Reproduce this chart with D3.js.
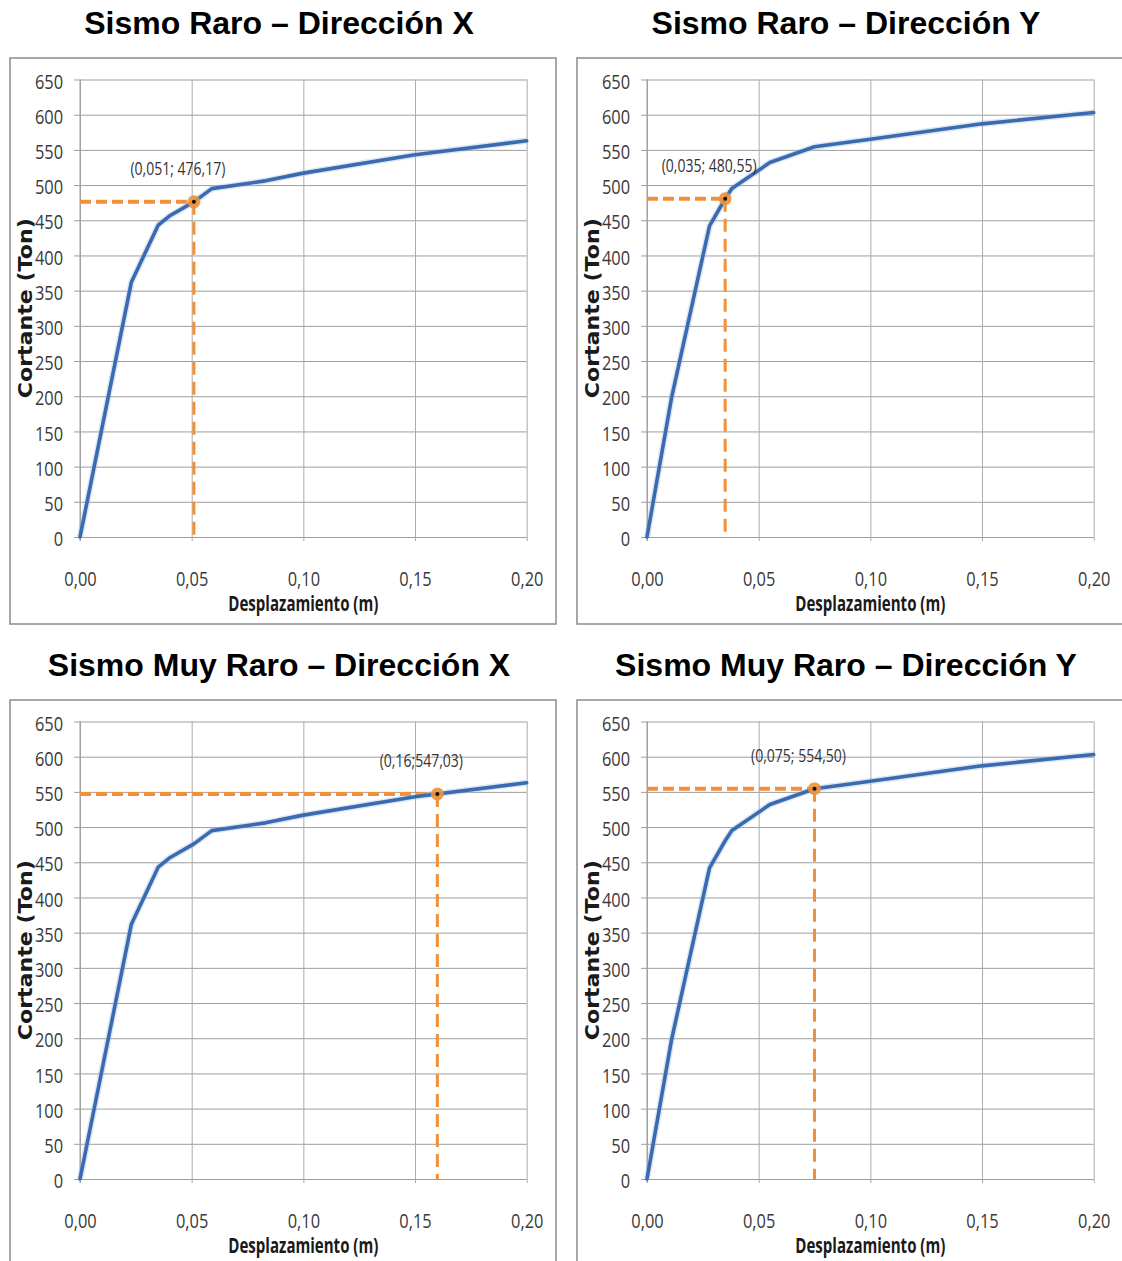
<!DOCTYPE html>
<html><head><meta charset="utf-8">
<script src="https://cdn.jsdelivr.net/npm/d3@7"></script>
<style>body{margin:0;background:#fff}</style>
</head><body><svg id="c" width="1122" height="1261"></svg>
<script>
// ---- data ----
const panelTitles = ["Sismo Raro – Dirección X","Sismo Raro – Dirección Y","Sismo Muy Raro – Dirección X","Sismo Muy Raro – Dirección Y"];
const dispX  = [0, 0.023, 0.035, 0.040, 0.051, 0.059, 0.083, 0.10, 0.15, 0.20];
const shearX = [0, 362,   443,   456,   476.17, 495,  506,   517,  543,  563];
const dispY  = [0, 0.011, 0.028, 0.035, 0.038, 0.055, 0.075, 0.10, 0.15, 0.20];
const shearY = [0, 198,   442,   480.55, 495,  532,   554.5, 565,  587,  603];
const panelCurve = ["X","Y","X","Y"];
const markDisp  = [0.051, 0.035, 0.16, 0.075];
const markShear = [476.17, 480.55, 547.03, 554.50];
const markLabels = ["(0,051; 476,17)","(0,035; 480,55)","(0,16;547,03)","(0,075; 554,50)"];
const xTickValues = [0, 0.05, 0.10, 0.15, 0.20];
const yTickValues = [0,50,100,150,200,250,300,350,400,450,500,550,600,650];
const xAxisTitle = "Desplazamiento (m)";
const yAxisTitle = "Cortante (Ton)";

// ---- layout / style ----
const svg = d3.select("#c");
const panelPos = [[10,58],[577,58],[10,700],[577,700]];
const frameW = 546, frameH = 566;
const plotL = 70, plotT = 21.5, plotW = 446.7, plotH = 457.5;
const tickFont = "'Open Sans','Noto Sans',sans-serif";
const sx = 0.8; // horizontal condensation of tick text
const blue = "#3a6bb0", orange = "#f0913a";
const fmtX = d => d3.format(".2f")(d).replace(".", ",");

const curves = {
  X: dispX.map((d,i)=>({x:d,y:shearX[i]})),
  Y: dispY.map((d,i)=>({x:d,y:shearY[i]}))
};

panelPos.forEach(([fx,fy], p) => {
  // title
  svg.append("text")
    .attr("x", fx + 269).attr("y", fy - 24)
    .attr("text-anchor","middle")
    .attr("font-family","'Liberation Sans',Arial,sans-serif")
    .attr("font-weight","bold").attr("font-size",32)
    .attr("fill","#000")
    .text(panelTitles[p]);

  // frame
  svg.append("rect").attr("x",fx).attr("y",fy).attr("width",frameW).attr("height",frameH)
    .attr("fill","#fff").attr("stroke","#8c8c8c").attr("stroke-width",1.5);

  const g = svg.append("g").attr("transform",`translate(${fx+plotL},${fy+plotT})`);
  const x = d3.scaleLinear().domain([0,0.20]).range([0,plotW]);
  const y = d3.scaleLinear().domain([0,650]).range([plotH,0]);

  // horizontal grid + y labels
  const ya = g.append("g").call(d3.axisLeft(y).tickValues(yTickValues).tickSize(-plotW).tickPadding(0).tickFormat(d=>d));
  ya.select(".domain").remove();
  ya.selectAll(".tick line").attr("stroke","#9e9e9e").attr("stroke-width",1).attr("x1",-6);
  ya.selectAll(".tick text").attr("x",-17/sx).attr("dy","0.42em").attr("transform",`scale(${sx},1)`)
    .attr("font-family",tickFont).attr("font-size",20.5).attr("fill","#3a3a3a");

  // vertical grid + x labels
  const xa = g.append("g").attr("transform",`translate(0,${plotH})`)
    .call(d3.axisBottom(x).tickValues(xTickValues).tickSize(-plotH).tickPadding(0).tickFormat(fmtX));
  xa.select(".domain").remove();
  xa.selectAll(".tick line").attr("stroke","#ababab").attr("stroke-width",1).attr("y1",4);
  xa.selectAll(".tick text").attr("x",0).attr("y",49).attr("dy",0).attr("transform",`scale(${sx},1)`)
    .attr("font-family",tickFont).attr("font-size",20.5).attr("fill","#3a3a3a");

  // left axis line
  g.append("line").attr("x1",0).attr("x2",0).attr("y1",0).attr("y2",plotH+4)
    .attr("stroke","#9a9a9a").attr("stroke-width",1);

  // axis titles
  g.append("text").attr("x",plotW/2).attr("y",plotH+74).attr("text-anchor","middle")
    .attr("font-family",tickFont).attr("font-weight","bold").attr("font-size",20.5)
    .attr("fill","#1a1a1a").attr("textLength",150).attr("lengthAdjust","spacingAndGlyphs")
    .text(xAxisTitle);
  g.append("text").attr("transform",`translate(${-48},${plotH/2}) rotate(-90)`)
    .attr("text-anchor","middle")
    .attr("font-family","'DejaVu Sans',Verdana,sans-serif").attr("font-weight","bold").attr("font-size",19)
    .attr("fill","#1a1a1a").attr("textLength",180).attr("lengthAdjust","spacingAndGlyphs")
    .text(yAxisTitle);

  // reference dashed lines
  const mx = x(markDisp[p]), my = y(markShear[p]);
  g.append("line").attr("x1",0).attr("x2",mx).attr("y1",my).attr("y2",my)
    .attr("stroke",orange).attr("stroke-width",4).attr("stroke-dasharray","11,5");
  g.append("line").attr("x1",mx).attr("x2",mx).attr("y1",my).attr("y2",plotH)
    .attr("stroke",orange).attr("stroke-width",3).attr("stroke-dasharray","13,7");

  // curve
  const line = d3.line().x(d=>x(d.x)).y(d=>y(d.y));
  g.append("path").datum(curves[panelCurve[p]]).attr("d",line)
    .attr("fill","none").attr("stroke","#9cbbe0").attr("stroke-width",6.5).attr("stroke-opacity",0.35)
    .attr("stroke-linejoin","round");
  g.append("path").datum(curves[panelCurve[p]]).attr("d",line)
    .attr("fill","none").attr("stroke",blue).attr("stroke-width",3.6)
    .attr("stroke-linejoin","round").attr("stroke-linecap","round");

  // marker
  g.append("circle").attr("cx",mx).attr("cy",my).attr("r",6.5).attr("fill",orange).attr("fill-opacity",0.9);
  g.append("circle").attr("cx",mx).attr("cy",my).attr("r",2).attr("fill","#111");

  // label
  const lab = g.append("text").attr("x",mx-16).attr("y",my-27).attr("text-anchor","middle")
    .attr("font-family",tickFont).attr("font-size",17.5).attr("fill","#333")
    .text(markLabels[p]);
  lab.attr("textLength", lab.node().getComputedTextLength()*0.8).attr("lengthAdjust","spacingAndGlyphs");
});
</script></body></html>
